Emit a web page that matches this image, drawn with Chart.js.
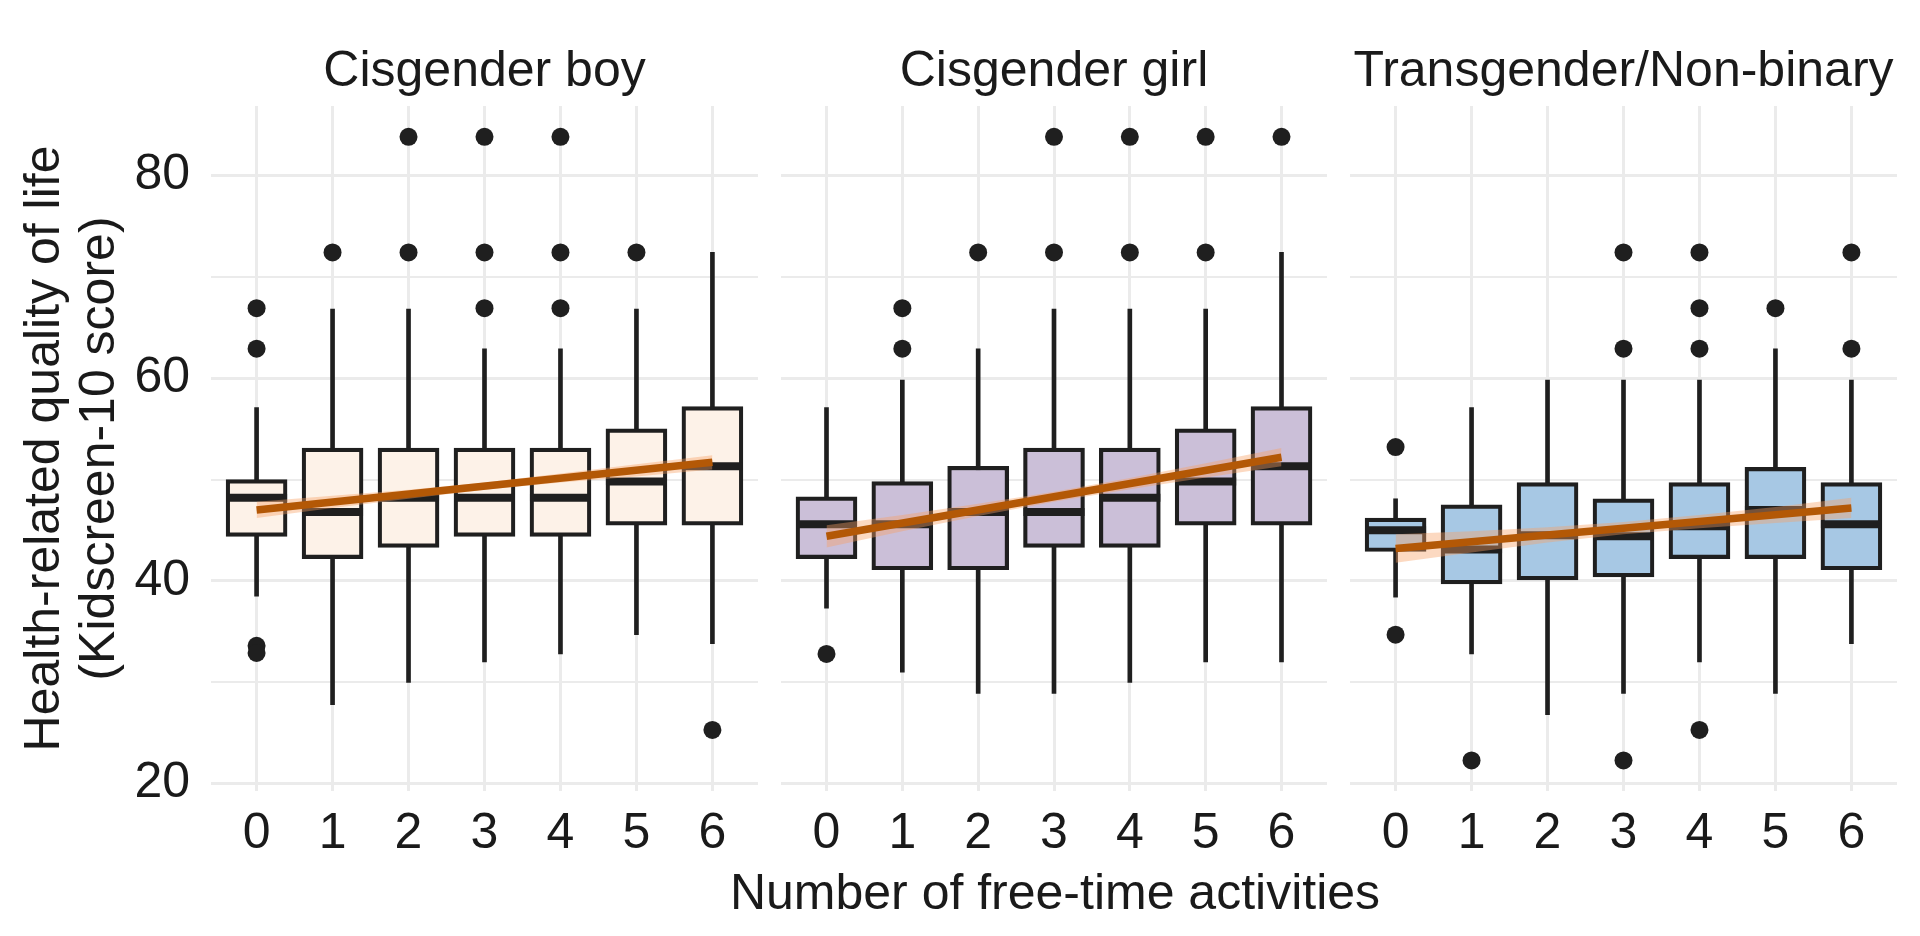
<!DOCTYPE html>
<html>
<head>
<meta charset="utf-8">
<title>Health-related quality of life by number of free-time activities</title>
<script src="https://cdn.jsdelivr.net/npm/chart.js@4.4.0/dist/chart.umd.min.js"></script>
<style>
  html, body { margin: 0; padding: 0; background: #fff; }
  body { width: 1920px; height: 936px; position: relative; overflow: hidden; }
  canvas { position: absolute; top: 0; }
</style>
</head>
<body>
<canvas id="boy" width="800" height="936" style="left:0px"></canvas>
<canvas id="girl" width="710" height="936" style="left:700px"></canvas>
<canvas id="trans" width="650" height="936" style="left:1300px"></canvas>
<script>
// values (Kidscreen-10 T-scores)
const activities = [0, 1, 2, 3, 4, 5, 6];
const trendX = [0, 6];
const yTickLabels = [20, 40, 60, 80];
const yMin = 19.28;
const yMax = 86.84;

// Cisgender boy
const boyLow  = [38.5, 27.8, 30.0, 32.0, 32.8, 34.7, 33.8];
const boyQ1   = [44.4, 42.2, 43.3, 44.4, 44.4, 45.5, 45.5];
const boyMed  = [48.2, 46.8, 48.2, 48.2, 48.2, 49.8, 51.3];
const boyQ3   = [50.0, 53.1, 53.1, 53.1, 53.1, 55.0, 57.2];
const boyHigh = [57.1, 66.8, 66.8, 62.9, 62.9, 66.8, 72.4];
const boyOutX = [0, 0, 0, 0, 1, 2, 2, 3, 3, 3, 4, 4, 4, 5, 6];
const boyOutY = [66.9, 62.9, 33.6, 32.9, 72.4, 83.8, 72.4, 83.8, 72.4, 66.9, 83.8, 72.4, 66.9, 72.4, 25.3];
const boyTrend = [47.0, 51.7];
const boyBandLow  = [46.2, 47.2, 48.1, 49.0, 49.7, 50.3, 51.0];
const boyBandHigh = [47.8, 48.4, 49.0, 49.7, 50.6, 51.5, 52.4];

// Cisgender girl
const girlLow  = [37.3, 31.0, 28.9, 28.9, 30.0, 32.0, 32.0];
const girlQ1   = [42.2, 41.1, 41.1, 43.3, 43.3, 45.5, 45.5];
const girlMed  = [45.6, 45.6, 46.8, 46.8, 48.2, 49.8, 51.3];
const girlQ3   = [48.3, 49.8, 51.3, 53.1, 53.1, 55.0, 57.2];
const girlHigh = [57.1, 59.8, 62.9, 66.8, 66.8, 66.8, 72.4];
const girlOutX = [0, 1, 1, 2, 3, 3, 4, 4, 5, 5, 6];
const girlOutY = [32.8, 66.9, 62.9, 72.4, 83.8, 72.4, 83.8, 72.4, 83.8, 72.4, 83.8];
const girlTrend = [44.4, 52.2];
const girlBandLow  = [43.3, 44.9, 46.4, 47.8, 49.05, 50.2, 51.3];
const girlBandHigh = [45.5, 46.5, 47.6, 48.8, 50.15, 51.6, 53.1];

// Transgender/Non-binary
const transLow  = [38.4, 32.8, 26.8, 28.9, 32.0, 28.9, 33.8];
const transQ1   = [42.9, 39.7, 40.1, 40.4, 42.2, 42.2, 41.1];
const transMed  = [45.0, 43.1, 44.5, 44.4, 45.4, 47.0, 45.6];
const transQ3   = [46.2, 47.5, 49.7, 48.1, 49.7, 51.2, 49.7];
const transHigh = [48.1, 57.1, 59.8, 59.8, 59.8, 62.9, 59.8];
const transOutX = [0, 0, 1, 3, 3, 3, 4, 4, 4, 4, 5, 6, 6];
const transOutY = [53.2, 34.7, 22.3, 72.4, 62.9, 22.3, 72.4, 66.9, 62.9, 25.3, 66.9, 72.4, 62.9];
const transTrend = [43.2, 47.2];
const transBandLow  = [41.8, 42.8, 43.8, 44.6, 45.2, 45.7, 46.2];
const transBandHigh = [44.6, 44.9, 45.3, 45.8, 46.5, 47.3, 48.2];

const ink = '#1f1f1f';
const textColor = '#1a1a1a';
const gridColor = '#ebebeb';
const fontFamily = "'Liberation Sans', Arial, sans-serif";
const bigFont = { family: fontFamily, size: 50, weight: 'normal' };

function pts(xs, ys) {
  return xs.map((x, i) => ({ x: x, y: ys[i] }));
}

function panel(id, p) {
  const common = { xAxisID: 'x', yAxisID: 'y' };

  const datasets = [
    // whiskers, drawn first so the boxes cover them
    Object.assign({ type: 'bar', data: activities.map((x, i) => ({ x: x, y: [p.low[i], p.high[i]] })),
      backgroundColor: ink, borderWidth: 0, barThickness: 4, grouped: false, order: 6 }, common),
    // boxes
    Object.assign({ type: 'bar', data: activities.map((x, i) => ({ x: x, y: [p.q1[i], p.q3[i]] })),
      backgroundColor: p.fill, borderColor: ink, borderWidth: 4.2, borderSkipped: false,
      barThickness: 61, grouped: false, order: 5 }, common),
    // medians
    Object.assign({ type: 'line', data: pts(activities, p.med), showLine: false,
      pointStyle: 'line', pointRadius: 30.5, pointBorderWidth: 8, pointBorderColor: ink, order: 4 }, common),
    // outliers
    Object.assign({ type: 'line', data: pts(p.outX, p.outY), showLine: false,
      pointStyle: 'circle', pointRadius: 9, pointBackgroundColor: ink, pointBorderWidth: 0, order: 3 }, common),
    // confidence band of the linear fit
    Object.assign({ type: 'line', data: pts(activities, p.bandLow), borderColor: 'transparent',
      pointRadius: 0, fill: false, order: 2 }, common),
    Object.assign({ type: 'line', data: pts(activities, p.bandHigh), borderColor: 'transparent',
      pointRadius: 0, fill: '-1', backgroundColor: 'rgba(248,160,100,0.4)', order: 2 }, common),
    // linear fit
    Object.assign({ type: 'line', data: pts(trendX, p.trend), borderColor: '#b35806',
      borderWidth: 7.5, pointRadius: 0, order: 1 }, common)
  ];

  const scales = {
    x: {
      type: 'linear', min: -0.6, max: 6.6, offset: false,
      ticks: { stepSize: 1, includeBounds: false, padding: 13, font: bigFont, color: textColor, maxRotation: 0, autoSkip: false },
      grid: { color: gridColor, lineWidth: 3, drawTicks: false, offset: false },
      border: { display: false },
      afterFit: s => { s.height = p.xAxisHeight; }
    },
    top: {
      type: 'linear', axis: 'x', position: 'top',
      ticks: { display: false }, grid: { display: false }, border: { display: false },
      title: { display: true, text: p.name, font: bigFont, color: textColor, padding: { top: 42, bottom: 0 } },
      afterFit: s => { s.height = 106; }
    },
    y: {
      type: 'linear', min: yMin, max: yMax,
      ticks: { display: p.showY, stepSize: 10, includeBounds: false, padding: 21, font: bigFont, color: textColor,
        callback: v => yTickLabels.includes(v) ? v : '' },
      grid: { color: gridColor, lineWidth: c => (c.tick && yTickLabels.includes(c.tick.value)) ? 3 : 2, drawTicks: false },
      border: { display: false },
      title: { display: p.showY, text: ['Health-related quality of life', '(Kidscreen-10 score)'],
        font: { family: fontFamily, size: 50, lineHeight: 1.1 }, color: textColor, padding: { top: 18, bottom: 0 } },
      afterFit: s => { s.width = p.yAxisWidth; }
    },
    // empty axis on the right, only reserves room
    yr: {
      type: 'linear', axis: 'y', position: 'right',
      ticks: { display: false }, grid: { display: false }, border: { display: false },
      afterFit: s => { s.width = p.rightWidth; }
    }
  };

  return new Chart(document.getElementById(id), {
    type: 'bar',
    data: { datasets: datasets },
    options: {
      responsive: false,
      animation: false,
      devicePixelRatio: 1,
      events: [],
      layout: { padding: 0 },
      plugins: {
        legend: { display: false },
        tooltip: { enabled: false },
        title: {
          display: !!p.xTitle, position: 'bottom', text: p.xTitle || '',
          font: bigFont, color: textColor, padding: { top: 0, bottom: 11 }
        }
      },
      scales: scales
    }
  });
}

document.addEventListener('DOMContentLoaded', () => {
  panel('boy', {
    name: 'Cisgender boy', fill: '#fdf2e8',
    low: boyLow, q1: boyQ1, med: boyMed, q3: boyQ3, high: boyHigh,
    outX: boyOutX, outY: boyOutY, trend: boyTrend, bandLow: boyBandLow, bandHigh: boyBandHigh,
    showY: true, yAxisWidth: 211, rightWidth: 42, xAxisHeight: 145
  });

  panel('girl', {
    name: 'Cisgender girl', fill: '#cbbfd8',
    low: girlLow, q1: girlQ1, med: girlMed, q3: girlQ3, high: girlHigh,
    outX: girlOutX, outY: girlOutY, trend: girlTrend, bandLow: girlBandLow, bandHigh: girlBandHigh,
    showY: false, yAxisWidth: 81, rightWidth: 83, xAxisHeight: 74,
    xTitle: 'Number of free-time activities'
  });

  panel('trans', {
    name: 'Transgender/Non-binary', fill: '#a7c8e4',
    low: transLow, q1: transQ1, med: transMed, q3: transQ3, high: transHigh,
    outX: transOutX, outY: transOutY, trend: transTrend, bandLow: transBandLow, bandHigh: transBandHigh,
    showY: false, yAxisWidth: 50, rightWidth: 53, xAxisHeight: 145
  });
});
</script>
</body>
</html>
